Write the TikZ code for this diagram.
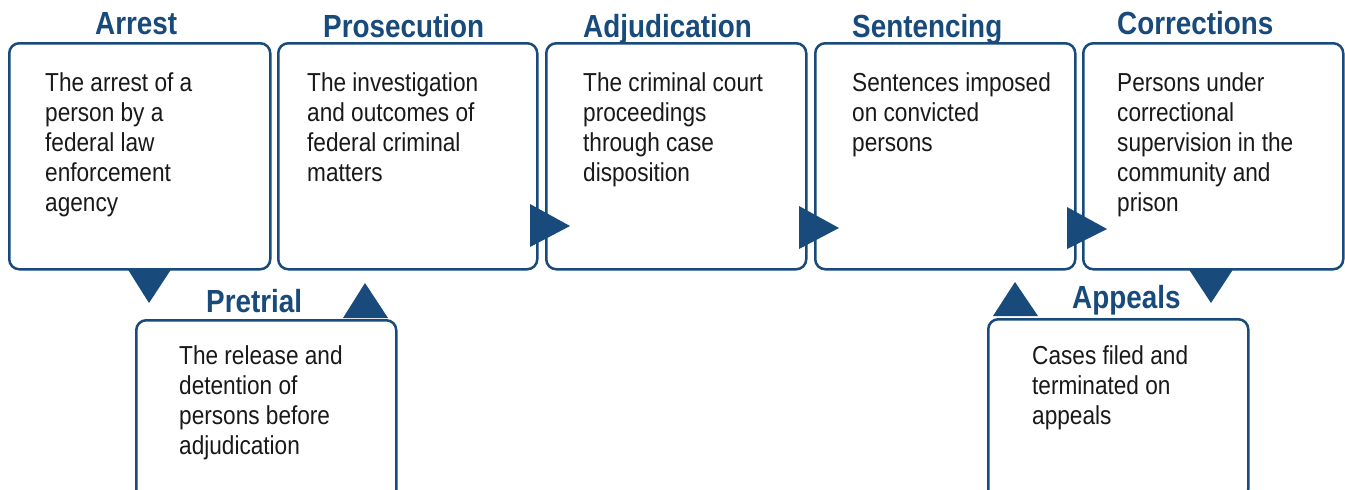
\documentclass[tikz,border=0pt]{standalone}
\usepackage{fontspec}
\setmainfont{Liberation Sans}[FakeStretch=0.87]
\definecolor{navy}{RGB}{24,74,123}
\tikzset{
  stagebox/.style={draw=navy, line width=2.5pt, rounded corners=10pt, fill=white,
    rectangle, anchor=north west, inner sep=0pt},
  stagetitle/.style={anchor=base west, inner sep=0pt, text=navy,
    font=\fontsize{32}{36}\selectfont\bfseries},
  stagetext/.style={anchor=north west, inner sep=0pt, align=left, text=black!90,
    font=\fontsize{26}{30}\selectfont},
  marker/.style={fill=navy, draw=none}
}
\begin{document}
\begin{tikzpicture}[x=1pt,y=-1pt]
\useasboundingbox (0,0) rectangle (1345,490);
\clip (0,0) rectangle (1345,490);
\fill[white] (0,0) rectangle (1345,490);

% boxes
\node[stagebox, minimum width=261pt, minimum height=226pt] (arrest) at (8,42) {};
\node[stagebox, minimum width=259pt, minimum height=226pt] (prosecution) at (277,42) {};
\node[stagebox, minimum width=260pt, minimum height=226pt] (adjudication) at (545,42) {};
\node[stagebox, minimum width=260pt, minimum height=226pt] (sentencing) at (814,42) {};
\node[stagebox, minimum width=260pt, minimum height=226pt] (corrections) at (1082,42) {};
\node[stagebox, minimum width=260pt, minimum height=180pt] (pretrial) at (135,319) {};
\node[stagebox, minimum width=260pt, minimum height=180pt] (appeals) at (987,318) {};

% titles
\node[stagetitle] (t-arrest) at (95,34) {Arrest};
\node[stagetitle] (t-prosecution) at (323,37) {Prosecution};
\node[stagetitle] (t-adjudication) at (583,37) {Adjudication};
\node[stagetitle] (t-sentencing) at (852,37) {Sentencing};
\node[stagetitle] (t-corrections) at (1117,34) {Corrections};
\node[stagetitle] (t-pretrial) at (206,312) {Pretrial};
\node[stagetitle] (t-appeals) at (1072,308) {Appeals};

% texts
\node[stagetext] (x-arrest) at (45,72) {The arrest of a\\person by a\\federal law\\enforcement\\agency};
\node[stagetext] (x-prosecution) at (307,72) {The investigation\\and outcomes of\\federal criminal\\matters};
\node[stagetext] (x-adjudication) at (583,72) {The criminal court\\proceedings\\through case\\disposition};
\node[stagetext] (x-sentencing) at (852,72) {Sentences imposed\\on convicted\\persons};
\node[stagetext] (x-corrections) at (1117,72) {Persons under\\correctional\\supervision in the\\community and\\prison};
\node[stagetext] (x-pretrial) at (179,345) {The release and\\detention of\\persons before\\adjudication};
\node[stagetext] (x-appeals) at (1032,345) {Cases filed and\\terminated on\\appeals};

% flow markers
\fill[marker] (127,268) -- (172,268) -- (149,303) -- cycle;   % arrest -> pretrial
\fill[marker] (343,318) -- (388,318) -- (365,283) -- cycle;   % pretrial -> prosecution
\fill[marker] (530,204) -- (530,247) -- (570,226) -- cycle;   % prosecution -> adjudication
\fill[marker] (799,206) -- (799,249) -- (839,228) -- cycle;   % adjudication -> sentencing
\fill[marker] (1067,207) -- (1067,249) -- (1107,229) -- cycle; % sentencing -> corrections
\fill[marker] (1188,268) -- (1234,268) -- (1211,303) -- cycle; % corrections -> appeals
\fill[marker] (993,316) -- (1038,316) -- (1015,282) -- cycle;  % appeals -> sentencing
\end{tikzpicture}
\end{document}
